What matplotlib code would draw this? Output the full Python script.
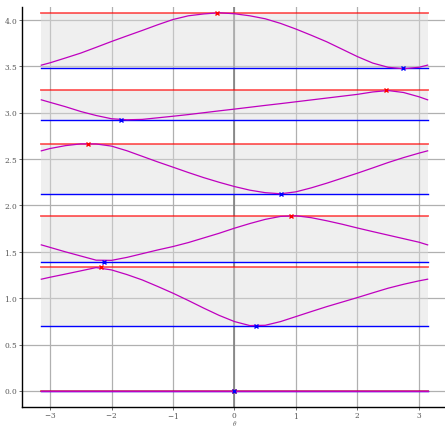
import numpy as np
import matplotlib
matplotlib.use("Agg")
import matplotlib.pyplot as plt

plt.rcParams['font.family'] = ['DejaVu Serif']
plt.rcParams['mathtext.fontset'] = 'cm'
plt.rcParams['axes.formatter.use_mathtext'] = True

PI = np.pi
theta = [-PI, -3.0, -2.75, -2.5, -2.25, -2.0, -1.75, -1.5, -1.25, -1.0, -0.75, -0.5, -0.25,
         0.0, 0.25, 0.5, 0.75, 1.0, 1.25, 1.5, 1.75, 2.0, 2.25, 2.5, 2.75, 3.0, PI]

band0 = [0.0] * 27
band1 = [1.205, 1.226, 1.260, 1.295, 1.330, 1.305, 1.255, 1.197, 1.127, 1.054, 0.975, 0.893, 0.815,
         0.748, 0.705, 0.708, 0.748, 0.802, 0.856, 0.909, 0.958, 1.007, 1.058, 1.108, 1.150, 1.187, 1.205]
band2 = [1.575, 1.548, 1.500, 1.455, 1.410, 1.408, 1.440, 1.480, 1.520, 1.557, 1.600, 1.650, 1.700,
         1.755, 1.805, 1.850, 1.882, 1.889, 1.868, 1.835, 1.798, 1.757, 1.718, 1.680, 1.642, 1.604, 1.575]
band3 = [2.589, 2.614, 2.645, 2.664, 2.663, 2.640, 2.590, 2.530, 2.470, 2.413, 2.355, 2.300, 2.250,
         2.204, 2.165, 2.138, 2.126, 2.147, 2.190, 2.240, 2.294, 2.348, 2.405, 2.463, 2.516, 2.564, 2.589]
band4 = [3.139, 3.112, 3.065, 3.013, 2.970, 2.935, 2.924, 2.928, 2.945, 2.962, 2.980, 3.000, 3.020,
         3.039, 3.059, 3.079, 3.098, 3.118, 3.138, 3.158, 3.178, 3.198, 3.224, 3.239, 3.218, 3.172, 3.139]
band5 = [3.513, 3.538, 3.590, 3.643, 3.705, 3.768, 3.828, 3.887, 3.948, 4.005, 4.045, 4.065, 4.078,
         4.067, 4.045, 4.013, 3.963, 3.902, 3.835, 3.765, 3.685, 3.605, 3.535, 3.490, 3.474, 3.490, 3.513]
bands = [band0, band1, band2, band3, band4, band5]

band_max = [0.0, 1.341, 1.891, 2.668, 3.240, 4.078]
band_max_theta = [0.0, -2.17, 0.925, -2.38, 2.457, -0.287]
band_min = [0.0, 0.698, 1.388, 2.125, 2.923, 3.477]
band_min_theta = [0.0, 0.346, -2.12, 0.752, -1.84, 2.74]

xticks = [-3, -2, -1, 0, 1, 2, 3]
yticks = [0.0, 0.5, 1.0, 1.5, 2.0, 2.5, 3.0, 3.5, 4.0]

fig = plt.figure(figsize=(4.45, 4.29), dpi=100)
ax = fig.add_axes([0.0494, 0.0513, 0.955, 0.9324])

ax.grid(True, color='#b0b0b0', lw=0.9, zorder=0)
ax.set_axisbelow(True)
ax.axvline(0, color='#808080', lw=1.2, zorder=1)

for lo, hi in zip(band_min, band_max):
    ax.fill_between([-PI, PI], lo, hi, color='#dcdcdc', alpha=0.45, lw=0, zorder=1)
    ax.plot([-PI, PI], [hi, hi], color='red', alpha=0.65, lw=1.3, zorder=2)
    ax.plot([-PI, PI], [lo, lo], color='blue', lw=1.0, zorder=2)

for b in bands:
    ax.plot(theta, b, color='m', lw=0.9, zorder=3)

ax.plot(band_max_theta, band_max, 'x', color='red', ms=3.5, mew=1.0, zorder=4)
ax.plot(band_min_theta, band_min, 'x', color='blue', ms=3.5, mew=1.0, zorder=4)

ax.set_xlim(-3.456, 3.456)
ax.set_ylim(-0.173, 4.14)
ax.set_xticks(xticks)
ax.set_yticks(yticks)
ax.tick_params(labelsize=5.3, length=2, width=0.6, colors='#555555', pad=1.5)
ax.tick_params(axis='x', pad=1.0)
ax.spines['top'].set_visible(False)
ax.spines['right'].set_visible(False)
ax.spines['left'].set_linewidth(1.0)
ax.spines['bottom'].set_linewidth(1.0)
ax.set_xlabel(r'$\theta$', fontsize=5.2, color='#555555')
ax.xaxis.set_label_coords(0.5, -0.0518)
ax.xaxis.label.set_verticalalignment('bottom')

fig.savefig('out.png', dpi=100)
